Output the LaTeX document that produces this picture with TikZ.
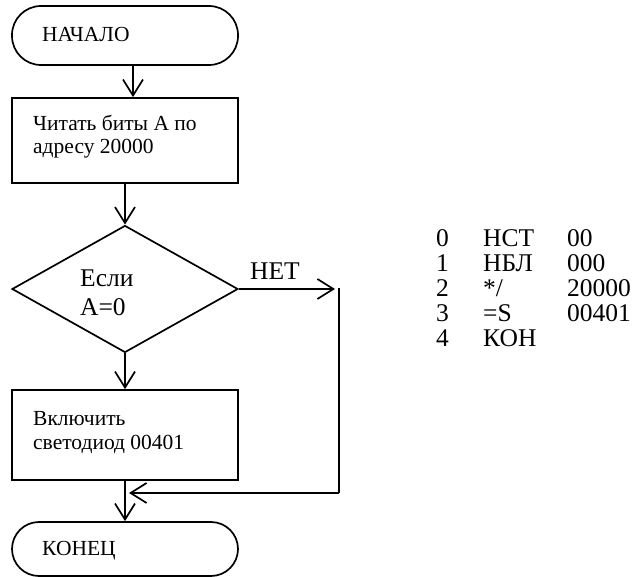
\documentclass[tikz,border=0pt]{standalone}
\usepackage{fontspec}
\setmainfont{Liberation Serif}
\usetikzlibrary{arrows.meta,shapes.geometric}

\tikzset{
  flow/.style={draw, line width=1.7pt},
  terminal/.style={flow, rectangle, minimum width=226pt, inner sep=0pt},
  stepbox/.style={flow, rectangle, minimum width=226pt, inner sep=0pt},
  decision/.style={flow, diamond, minimum width=226pt, minimum height=127pt, inner sep=0pt},
  small/.style={anchor=base west, inner sep=0pt, font=\fontsize{21.5}{23}\selectfont},
  big/.style={anchor=base west, inner sep=0pt, font=\fontsize{25.5}{25}\selectfont},
  arr/.style={line width=1.7pt, -{Straight Barb[length=16pt,width=20pt]}},
  link/.style={line width=1.7pt}
}

\begin{document}
\begin{tikzpicture}[x=1pt,y=-1pt]
  \useasboundingbox (0,0) rectangle (638,577);

  % blocks of the flowchart
  \node[terminal, minimum height=59pt, rounded corners=29pt] (start) at (125,35.5) {};
  \node[stepbox, minimum height=85pt] (read) at (125,140.5) {};
  \node[decision] (test) at (125,289) {};
  \node[stepbox, minimum height=90pt] (led) at (125,435) {};
  \node[terminal, minimum height=54pt, rounded corners=27pt] (stop) at (125,549) {};

  % texts of the blocks
  \node[small] (tstart) at (42,42) {НАЧАЛО};
  \node[small] (tread1) at (33,131) {Читать биты А по};
  \node[small] (tread2) at (33,154) {адресу 20000};
  \node[big] (ttest1) at (80,287) {Если};
  \node[big] (ttest2) at (80,316) {А=0};
  \node[big] (tno) at (250,280) {НЕТ};
  \node[small] (tled1) at (33,426) {Включить};
  \node[small] (tled2) at (33,450) {светодиод 00401};
  \node[small] (tstop) at (42,555) {КОНЕЦ};

  % program listing
  \node[big] (listing) at (436,247) {%
    \begin{tabular}[t]{@{}p{47pt}@{}p{84pt}@{}l@{}}
      0 & НСТ & 00\\
      1 & НБЛ & 000\\
      2 & */ & 20000\\
      3 & =S & 00401\\
      4 & КОН &
    \end{tabular}};

  % points of the bypass branch
  \coordinate (noend) at (335,289);
  \coordinate (bypasstop) at (339,288);
  \coordinate (bypassbot) at (339,493);
  \coordinate (merge) at (129,493);

  % connectors
  \draw[arr] ([xshift=8pt]start.south) -- ([xshift=8pt]read.north);
  \draw[arr] (read.south) -- (test.north);
  \draw[arr] (test.south) -- (led.north);
  \draw[arr] (led.south) -- (stop.north);
  \draw[arr] (test.east) -- (noend);
  \draw[link] (bypasstop) -- (bypassbot);
  \draw[arr] (bypassbot) -- (merge);
\end{tikzpicture}
\end{document}
